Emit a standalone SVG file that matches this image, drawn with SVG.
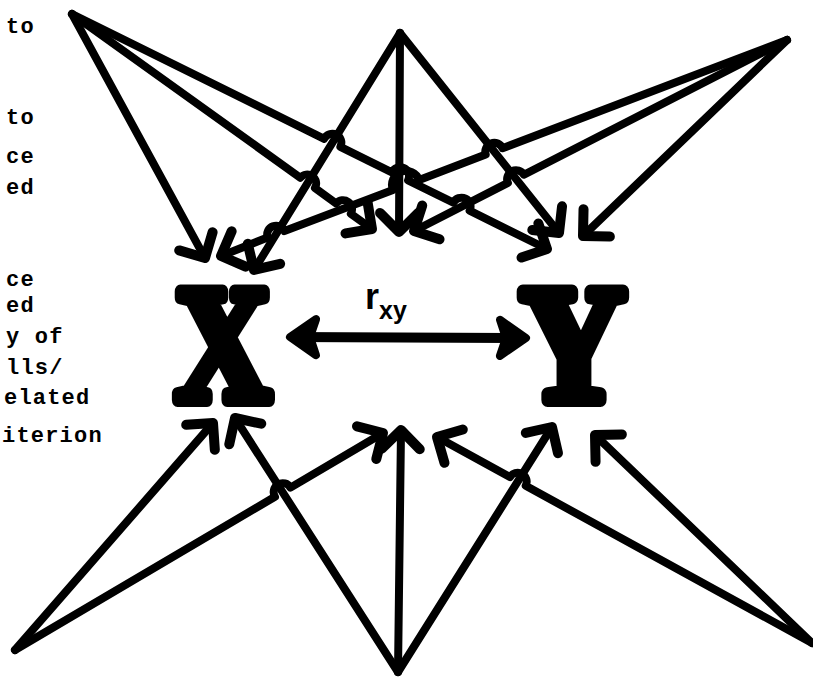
<svg xmlns="http://www.w3.org/2000/svg" width="813" height="685" viewBox="0 0 813 685">
<style>
.ln{fill:none;stroke:#000;stroke-width:8;stroke-linecap:round;stroke-linejoin:round;marker-end:url(#ah)}
.side{font-family:"Liberation Mono",monospace;font-weight:bold;font-size:22px;letter-spacing:1.2px;fill:#000}
.big{font-family:"Liberation Serif",serif;font-weight:bold;font-size:166px;fill:#000;stroke:#000;stroke-width:14;stroke-linejoin:round;text-anchor:middle}
.lab{font-family:"Liberation Sans",sans-serif;font-weight:bold;fill:#000}
</style>
<defs>
<marker id="ah" markerUnits="userSpaceOnUse" viewBox="-30 -30 60 60" markerWidth="60" markerHeight="60" refX="0" refY="0" orient="auto" overflow="visible">
<path d="M-19,-19 L0,0 L-19,19" fill="none" stroke="#000" stroke-width="10" stroke-linecap="round" stroke-linejoin="round"/>
</marker>
<marker id="ah2" markerUnits="userSpaceOnUse" viewBox="-40 -30 60 60" markerWidth="60" markerHeight="60" refX="0" refY="0" orient="auto-start-reverse" overflow="visible">
<path d="M-26,-18 L0,0 L-26,18 L-20,0 Z" fill="#000" stroke="#000" stroke-width="8" stroke-linejoin="round"/>
</marker>
</defs>
<rect width="813" height="685" fill="#fff"/>
<g id="labels">
<text class="side" x="6" y="33">to</text>
<text class="side" x="6" y="124">to</text>
<text class="side" x="6" y="163">ce</text>
<text class="side" x="6" y="194">ed</text>
<text class="side" x="6" y="286">ce</text>
<text class="side" x="6" y="312">ed</text>
<text class="side" x="6" y="343">y of</text>
<text class="side" x="6" y="374">lls/</text>
<text class="side" x="4" y="404">elated</text>
<text class="side" x="2" y="442">iterion</text>
</g>
<g id="node-X"><text class="big" transform="translate(223,400) scale(0.8,1)">X</text></g>
<g id="node-Y"><text class="big" transform="translate(573,400) scale(0.88,1)">Y</text></g>
<g id="connectors">
<path class="ln" d="M72,14 L205,258"/>
<path class="ln" d="M72,14 L300.3,177.7 A9,9 0 0 1 314.9,188.1 L336.2,203.4 A9,9 0 0 1 350.8,213.8 L372,229"/>
<path class="ln" d="M72,14 L324.2,138.8 A9,9 0 0 1 340.4,146.8 L391.9,172.3 A9,9 0 0 1 408.1,180.3 L453.4,202.7 A9,9 0 0 1 469.6,210.7 L547,249"/>
<path class="ln" d="M400,33 L254,270"/>
<path class="ln" d="M400,33 L399,232"/>
<path class="ln" d="M400,33 L559,233"/>
<path class="ln" d="M787,40 L502.5,148.2 A9,9 0 0 0 485.7,154.6 L419.1,179.9 A14,14 0 0 0 392.9,189.9 L284.4,231.1 A9,9 0 0 0 267.6,237.5 L221,256"/>
<path class="ln" d="M787,40 L523.9,174.7 A9,9 0 0 0 507.9,182.9 L414,231"/>
<path class="ln" d="M787,40 L583,236"/>
<path class="ln" d="M15,650 L213,423"/>
<path class="ln" d="M15,650 L274.95,496.8 A9,9 0 0 1 290.45,487.6 L383,433"/>
<path class="ln" d="M398,672 L235,418"/>
<path class="ln" d="M398,672 L401,430"/>
<path class="ln" d="M398,672 L552,427"/>
<path class="ln" d="M812,643 L525.7,485.7 A9,9 0 0 0 509.9,477.1 L437,437"/>
<path class="ln" d="M812,643 L595,435"/>
<path d="M290,337 L526,338" fill="none" stroke="#000" stroke-width="10" marker-start="url(#ah2)" marker-end="url(#ah2)"/>
</g>
<g id="rxy"><text class="lab" x="365" y="309" font-size="36">r<tspan font-size="25" dy="10">xy</tspan></text></g>
</svg>
